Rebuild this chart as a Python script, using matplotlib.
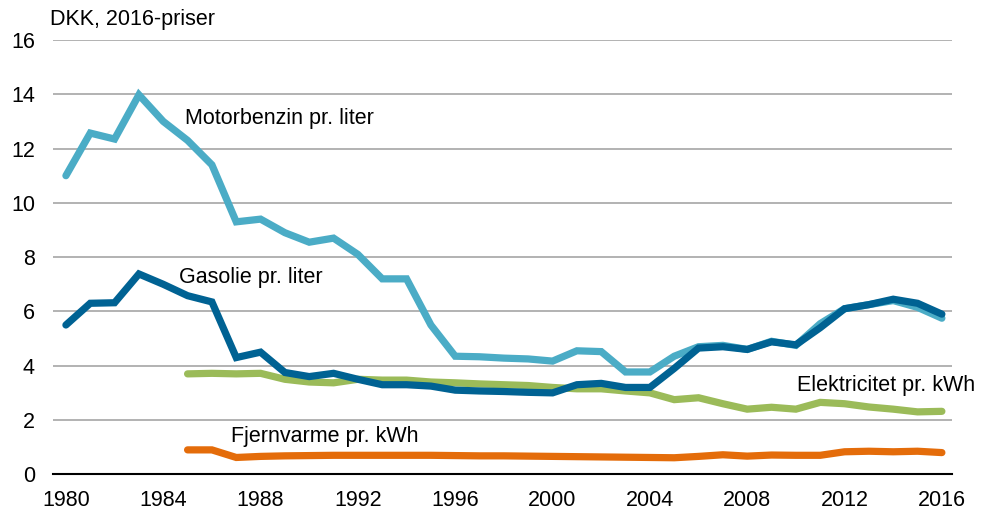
import matplotlib.pyplot as plt

plt.rcParams['font.family'] = ['Liberation Sans', 'DejaVu Sans']

years = list(range(1980, 2017))
years_from_1985 = list(range(1985, 2017))

motorbenzin = [11.0, 12.57, 12.35, 13.98, 13.0, 12.3, 11.4, 9.3, 9.4, 8.9,
               8.55, 8.7, 8.1, 7.2, 7.2, 5.5, 4.35, 4.33, 4.28, 4.25,
               4.17, 4.55, 4.52, 3.77, 3.77, 4.35, 4.7, 4.75, 4.6, 4.9,
               4.75, 5.55, 6.1, 6.25, 6.4, 6.15, 5.75]

gasolie = [5.5, 6.3, 6.32, 7.38, 7.0, 6.58, 6.35, 4.3, 4.5, 3.75,
           3.6, 3.72, 3.5, 3.3, 3.3, 3.25, 3.1, 3.07, 3.05, 3.02,
           3.0, 3.3, 3.35, 3.2, 3.2, 3.9, 4.65, 4.7, 4.6, 4.88,
           4.77, 5.4, 6.1, 6.25, 6.45, 6.3, 5.9]

elektricitet = [3.7, 3.72, 3.7, 3.72, 3.5, 3.4, 3.37, 3.5, 3.47, 3.47,
                3.4, 3.37, 3.33, 3.3, 3.27, 3.2, 3.15, 3.15, 3.07, 3.0,
                2.75, 2.82, 2.6, 2.4, 2.47, 2.4, 2.65, 2.6, 2.48, 2.4,
                2.3, 2.32]

fjernvarme = [0.9, 0.9, 0.62, 0.66, 0.68, 0.69, 0.7, 0.7, 0.7, 0.7,
              0.7, 0.69, 0.68, 0.68, 0.67, 0.66, 0.65, 0.64, 0.63, 0.62,
              0.61, 0.66, 0.72, 0.67, 0.71, 0.7, 0.7, 0.83, 0.85, 0.83,
              0.85, 0.8]

fig = plt.figure(figsize=(9.91, 5.11), dpi=100)
ax = fig.add_axes([0.0535, 0.0718, 0.907, 0.85])

lw = 5.2
style = dict(lw=lw, solid_capstyle='round', solid_joinstyle='miter')
ax.plot(years, motorbenzin, color='#4BACC6', zorder=3, **style)
ax.plot(years, gasolie, color='#006293', zorder=4, **style)
ax.plot(years_from_1985, elektricitet, color='#9BBB59', zorder=3, **style)
ax.plot(years_from_1985, fjernvarme, color='#E46C0A', zorder=3, **style)

ax.set_xlim(1979.47, 2016.41)
ax.set_ylim(0, 16)
ax.set_yticks(range(0, 17, 2))
ax.set_xticks(range(1980, 2017, 4))
ax.tick_params(length=0, labelsize=15.5)
ax.tick_params(axis='x', pad=11)
ax.tick_params(axis='y', pad=13)
ax.grid(axis='y', color='#A6A6A6', lw=1.2)
ax.set_axisbelow(True)
for s in ['top', 'right', 'left']:
    ax.spines[s].set_visible(False)
ax.spines['bottom'].set_color('black')
ax.spines['bottom'].set_linewidth(1.5)
ax.spines['bottom'].set_zorder(5)

fs = 15.5
ax.text(1984.9, 13.12, 'Motorbenzin pr. liter', fontsize=fs, va='center')
ax.text(1984.65, 7.25, 'Gasolie pr. liter', fontsize=fs, va='center')
ax.text(2017.35, 3.28, 'Elektricitet pr. kWh', fontsize=fs, va='center', ha='right', clip_on=False)
ax.text(1986.8, 1.38, 'Fjernvarme pr. kWh', fontsize=fs, va='center')
fig.text(0.05, 0.962, 'DKK, 2016-priser', fontsize=fs, va='center')

fig.savefig('out.png', dpi=100)
